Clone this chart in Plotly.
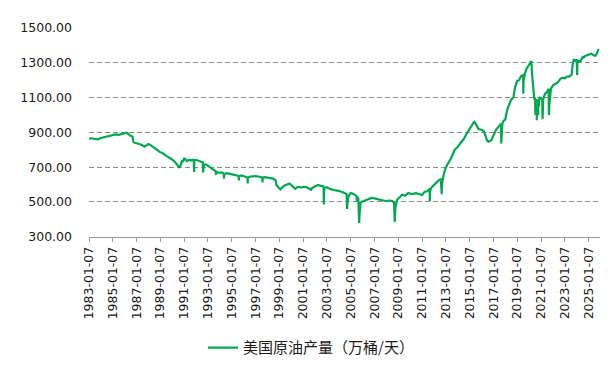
import plotly.graph_objects as go

dates = [
 "1983-01-07","1983-04-01","1983-07-01","1983-10-07","1984-01-06","1984-04-06","1984-07-06","1984-10-05",
 "1985-01-04","1985-04-05","1985-07-05","1985-10-04","1986-01-03","1986-03-07","1986-05-02","1986-07-04",
 "1986-09-05","1986-10-03","1986-11-07","1987-01-02","1987-04-03","1987-07-03","1987-09-04","1987-11-06",
 "1988-01-01","1988-03-04","1988-05-06","1988-07-01","1988-10-07","1989-01-06","1989-04-07","1989-07-07",
 "1989-10-06","1990-01-05","1990-04-06","1990-06-01","1990-08-03","1990-09-07","1990-10-05","1990-11-02",
 "1990-12-07","1991-01-04","1991-03-01","1991-04-05","1991-06-07","1991-08-02","1991-10-04","1991-11-01",
 "1991-11-08","1991-11-15","1992-01-03","1992-04-03","1992-06-05","1992-07-31","1992-08-07","1992-08-14",
 "1992-09-04","1992-11-06","1993-01-01","1993-04-02","1993-06-04","1993-08-06","1993-09-03","1993-09-10",
 "1993-09-17","1993-11-05","1994-01-07","1994-04-01","1994-05-06","1994-05-13","1994-05-20","1994-08-05",
 "1994-11-04","1995-01-06","1995-04-07","1995-07-07","1995-08-04","1995-08-11","1995-08-18","1995-11-03",
 "1996-01-05","1996-04-05","1996-05-03","1996-05-10","1996-05-17","1996-08-02","1996-10-04","1997-01-03",
 "1997-04-04","1997-07-04","1997-08-01","1997-08-08","1997-08-15","1997-10-03","1998-01-02","1998-04-03",
 "1998-07-03","1998-09-04","1998-09-25","1998-10-02","1998-11-06","1999-01-01","1999-02-05","1999-04-02",
 "1999-06-04","1999-09-03","1999-11-05","2000-01-07","2000-03-03","2000-05-05","2000-07-07","2000-09-01",
 "2000-11-03","2001-01-05","2001-04-06","2001-07-06","2001-09-07","2001-10-05","2001-12-07","2002-02-01",
 "2002-04-05","2002-07-05","2002-09-20","2002-09-27","2002-10-04","2002-10-11","2002-10-25","2003-01-03",
 "2003-04-04","2003-07-04","2003-10-03","2004-01-02","2004-04-02","2004-07-02","2004-09-03","2004-09-17",
 "2004-10-01","2004-11-05","2005-01-07","2005-03-04","2005-05-06","2005-07-01","2005-07-15","2005-07-22",
 "2005-08-26","2005-09-02","2005-09-09","2005-09-23","2005-09-30","2005-10-14","2005-11-04","2005-12-02",
 "2006-02-03","2006-04-07","2006-07-07","2006-10-06","2007-01-05","2007-04-06","2007-07-06","2007-10-05",
 "2008-01-04","2008-04-04","2008-07-04","2008-08-29","2008-09-12","2008-09-19","2008-09-26","2008-10-10",
 "2008-11-07","2008-12-05","2009-03-06","2009-05-01","2009-08-07","2009-11-06","2010-01-01","2010-04-02",
 "2010-07-02","2010-10-01","2011-01-07","2011-04-01","2011-06-03","2011-08-05","2011-08-26","2011-09-02",
 "2011-09-09","2011-10-07","2011-12-02","2012-02-03","2012-04-06","2012-06-01","2012-08-03","2012-08-31",
 "2012-09-07","2012-10-05","2012-11-02","2013-01-04","2013-03-01","2013-05-03","2013-07-05","2013-10-04",
 "2014-01-03","2014-04-04","2014-05-02","2014-07-04","2014-10-03","2015-01-02","2015-03-06","2015-05-01",
 "2015-06-05","2015-08-07","2015-10-02","2016-01-01","2016-03-04","2016-05-06","2016-07-01","2016-08-05",
 "2016-10-07","2016-11-04","2016-12-02","2017-02-03","2017-04-07","2017-07-07","2017-08-25","2017-09-01",
 "2017-09-08","2017-10-06","2017-11-03","2018-01-05","2018-03-02","2018-05-04","2018-07-06","2018-09-07",
 "2018-11-02","2019-01-04","2019-03-01","2019-05-03","2019-07-05","2019-07-12","2019-07-19","2019-09-06",
 "2019-10-04","2019-12-06","2020-01-03","2020-02-07","2020-03-13","2020-04-03","2020-04-24","2020-05-08",
 "2020-05-29","2020-06-12","2020-07-03","2020-07-17","2020-07-24","2020-08-21","2020-08-28","2020-09-04",
 "2020-09-25","2020-10-09","2020-10-16","2020-10-30","2020-11-06","2020-12-04","2021-01-08","2021-02-12",
 "2021-02-19","2021-02-26","2021-03-12","2021-05-07","2021-07-02","2021-08-27","2021-09-03","2021-09-10",
 "2021-09-17","2021-10-08","2021-11-05","2022-01-07","2022-04-01","2022-06-03","2022-09-02","2022-12-02",
 "2023-01-06","2023-03-03","2023-06-02","2023-08-04","2023-09-01","2023-10-06","2023-12-01","2024-01-05",
 "2024-01-19","2024-01-26","2024-03-01","2024-05-03","2024-07-05","2024-08-02","2024-10-04","2024-12-06",
 "2025-02-07","2025-04-04","2025-06-06","2025-08-01","2025-09-05","2025-10-10","2025-11-07",
]

production = [
 864,866,862,860,868,872,876,880,
 885,888,886,892,896,898,890,880,
 876,845,840,838,833,826,818,825,
 833,828,818,809,798,785,778,765,
 755,744,728,712,700,706,716,738,
 730,753,740,735,742,738,743,740,
 672,738,742,737,732,728,670,700,
 712,716,708,700,689,680,672,656,
 675,668,667,668,661,633,660,665,
 662,661,656,652,650,624,648,652,
 648,643,640,606,640,646,648,648,
 646,643,640,612,640,642,640,637,
 634,626,618,600,590,578,572,585,
 593,600,606,598,588,575,584,587,
 582,587,585,578,570,580,585,590,
 597,592,590,560,486,560,580,585,
 575,569,566,564,560,552,545,459,
 500,535,551,548,540,535,505,530,
 520,420,400,379,420,460,495,500,
 505,508,515,523,520,515,510,508,
 505,508,505,498,420,385,420,470,
 500,514,530,541,535,551,548,546,
 550,545,540,560,560,570,578,505,
 560,580,590,600,615,625,630,545,
 600,650,661,698,716,744,760,800,
 815,840,846,860,892,915,938,955,
 960,940,919,915,910,880,850,846,
 850,855,870,895,919,938,950,836,
 880,950,965,975,1030,1067,1090,1100,
 1160,1196,1200,1224,1230,1122,1200,1240,
 1260,1280,1290,1306,1310,1240,1200,1150,
 1104,1090,1100,1000,1090,1080,970,1070,
 1090,1000,1090,1050,1090,1100,1095,1080,
 975,1000,1090,1122,1130,1150,1000,1010,
 1060,1130,1150,1170,1180,1187,1210,1214,
 1210,1220,1222,1233,1290,1316,1310,1320,
 1230,1300,1310,1310,1334,1330,1340,1343,
 1348,1352,1343,1340,1350,1365,1380,
]

series_name = "美国原油产量（万桶/天）"
tick_years = list(range(1983, 2026, 2))
tick_vals = [f"{y}-01-07" for y in tick_years]
tick_text = [f"{y}-01-07" for y in tick_years]
y_ticks = [300, 500, 700, 900, 1100, 1300, 1500]

fig = go.Figure()
fig.add_trace(go.Scatter(
    x=dates, y=production, mode="lines", name=series_name,
    line=dict(color="#00A850", width=2.2),
))

axis_font = dict(family="DejaVu Sans", size=12.5, color="#1a1a1a")

fig.update_layout(
    width=606, height=357,
    margin=dict(l=75, r=14, t=12, b=128),
    paper_bgcolor="white", plot_bgcolor="white",
    showlegend=True,
    legend=dict(orientation="h", xref="container", x=0.5, xanchor="center",
                yref="container", y=0.048, yanchor="middle",
                font=dict(family="Noto Sans CJK SC", size=15, color="#1a1a1a")),
    xaxis=dict(type="date", range=["1983-01-07", "2025-12-20"],
               tickmode="array", tickvals=tick_vals, ticktext=tick_text,
               tickangle=-90, tickfont=axis_font,
               showgrid=False, showline=True, linecolor="#9a9a9a", linewidth=1,
               ticks="outside", ticklen=4, tickcolor="#9a9a9a"),
    yaxis=dict(range=[300, 1500], tickmode="array", tickvals=y_ticks,
               ticktext=[f"{v:.2f}" for v in y_ticks], tickfont=axis_font,
               showgrid=True, gridcolor="#8a8a8a", griddash="5px,3px", gridwidth=1,
               zeroline=False, showline=False, ticks="", ticklabelstandoff=16),
)

fig.write_html("out.html")
